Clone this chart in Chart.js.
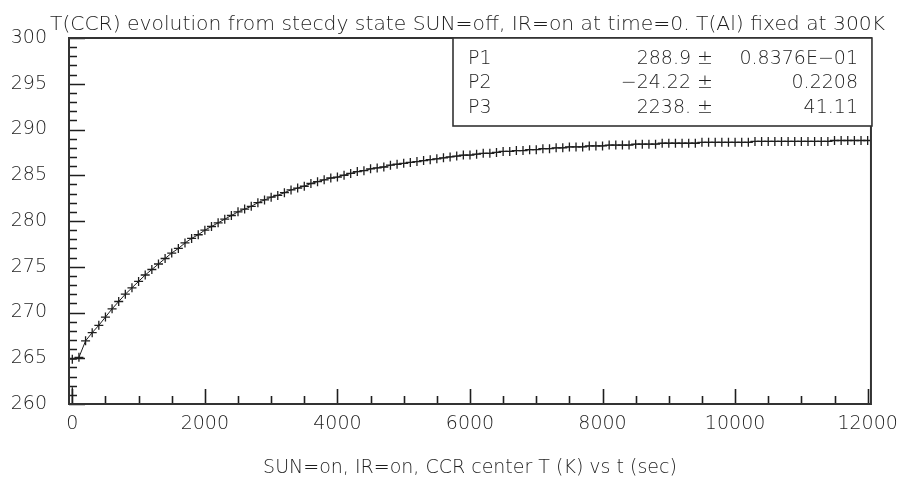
<!DOCTYPE html>
<html>
<head>
<meta charset="utf-8">
<script src="https://cdn.jsdelivr.net/npm/chart.js@4.4.1/dist/chart.umd.min.js"></script>
<style>
  html, body { margin: 0; padding: 0; background: #ffffff; }
  #wrap { width: 907px; height: 488px; }
</style>
</head>
<body>
<div id="wrap"><canvas id="c" width="907" height="488"></canvas></div>
<script>
// Time of each reading (s)
const times = [
  0, 100, 200, 300, 400, 500, 600, 700, 800, 900,
  1000, 1100, 1200, 1300, 1400, 1500, 1600, 1700, 1800, 1900,
  2000, 2100, 2200, 2300, 2400, 2500, 2600, 2700, 2800, 2900,
  3000, 3100, 3200, 3300, 3400, 3500, 3600, 3700, 3800, 3900,
  4000, 4100, 4200, 4300, 4400, 4500, 4600, 4700, 4800, 4900,
  5000, 5100, 5200, 5300, 5400, 5500, 5600, 5700, 5800, 5900,
  6000, 6100, 6200, 6300, 6400, 6500, 6600, 6700, 6800, 6900,
  7000, 7100, 7200, 7300, 7400, 7500, 7600, 7700, 7800, 7900,
  8000, 8100, 8200, 8300, 8400, 8500, 8600, 8700, 8800, 8900,
  9000, 9100, 9200, 9300, 9400, 9500, 9600, 9700, 9800, 9900,
  10000, 10100, 10200, 10300, 10400, 10500, 10600, 10700, 10800, 10900,
  11000, 11100, 11200, 11300, 11400, 11500, 11600, 11700, 11800, 11900,
  12000
];

// CCR center temperature at each reading (K)
const temps = [
  264.9, 265.1, 266.9, 267.8, 268.6, 269.5, 270.4, 271.2, 272.0, 272.7,
  273.4, 274.1, 274.7, 275.3, 275.9, 276.5, 277.0, 277.6, 278.1, 278.5,
  279.0, 279.4, 279.8, 280.2, 280.6, 281.0, 281.3, 281.6, 282.0, 282.3,
  282.6, 282.8, 283.1, 283.4, 283.6, 283.8, 284.1, 284.3, 284.5, 284.7,
  284.8, 285.0, 285.2, 285.4, 285.5, 285.7, 285.8, 285.9, 286.1, 286.2,
  286.3, 286.4, 286.5, 286.6, 286.7, 286.8, 286.9, 287.0, 287.1, 287.2,
  287.2, 287.3, 287.4, 287.4, 287.5, 287.6, 287.6, 287.7, 287.7, 287.8,
  287.8, 287.9, 287.9, 288.0, 288.0, 288.1, 288.1, 288.1, 288.2, 288.2,
  288.2, 288.3, 288.3, 288.3, 288.3, 288.4, 288.4, 288.4, 288.4, 288.5,
  288.5, 288.5, 288.5, 288.5, 288.5, 288.6, 288.6, 288.6, 288.6, 288.6,
  288.6, 288.6, 288.6, 288.7, 288.7, 288.7, 288.7, 288.7, 288.7, 288.7,
  288.7, 288.7, 288.7, 288.7, 288.7, 288.8, 288.8, 288.8, 288.8, 288.8,
  288.8
];

// Stray low reading in the first bin
const strayTimes = [0];
const strayTemps = [260.9];

// Axis ranges and tick layout
const xRange = [-50, 12050];
const yRange = [260, 300];
const xLabelTicks = [0, 2000, 4000, 6000, 8000, 10000, 12000];
const xMinorStep = 500;
const yLabelTicks = [260, 265, 270, 275, 280, 285, 290, 295, 300];
const yMinorStep = 1;

// Fit parameters shown in the box
const fitNames = ['P1', 'P2', 'P3'];
const fitValues = ['288.9', '\u221224.22', '2238.'];
const fitErrors = ['0.8376E\u221201', '0.2208', '41.11'];

const titleText = 'T(CCR) evolution from stecdy state SUN=off, IR=on at time=0. T(Al) fixed at 300K';
const xTitleText = 'SUN=on, IR=on, CCR center T (K) vs t (sec)';

const FONT = "'DejaVu Sans', sans-serif";
const INK = '#1e1e1e';

const points = times.map((t, i) => ({ x: t, y: temps[i] }));
const strayPoints = strayTimes.map((t, i) => ({ x: t, y: strayTemps[i] }));

// Frame with inward tick marks, drawn through the chart scales
const frameTicks = {
  id: 'frameTicks',
  afterDatasetsDraw(chart) {
    const { ctx, chartArea: a, scales } = chart;
    const xs = scales.x, ys = scales.y;
    ctx.save();
    ctx.strokeStyle = INK;
    ctx.lineWidth = 1.6;
    ctx.beginPath();
    for (let v = yRange[0]; v <= yRange[1]; v += yMinorStep) {
      const py = Math.round(ys.getPixelForValue(v)) + 0.5;
      const len = yLabelTicks.includes(v) ? 16 : 8;
      ctx.moveTo(a.left, py);
      ctx.lineTo(a.left + len, py);
    }
    for (let v = 0; v <= xLabelTicks[xLabelTicks.length - 1]; v += xMinorStep) {
      const px = Math.round(xs.getPixelForValue(v)) + 0.5;
      const len = xLabelTicks.includes(v) ? 15 : 8;
      ctx.moveTo(px, a.bottom);
      ctx.lineTo(px, a.bottom - len);
    }
    ctx.stroke();
    ctx.lineWidth = 2;
    ctx.strokeStyle = '#333';
    ctx.strokeRect(a.left, a.top, a.right - a.left, a.bottom - a.top);
    ctx.restore();
  }
};

// Title line and fit-parameter box
const annotations = {
  id: 'annotations',
  afterDraw(chart) {
    const { ctx, chartArea: a } = chart;
    ctx.save();
    ctx.fillStyle = INK;
    ctx.font = '200 20.3px ' + FONT;
    ctx.textAlign = 'left';
    ctx.textBaseline = 'alphabetic';
    ctx.fillText(titleText, 50, 30);

    const left = 453, right = a.right + 1, top = a.top, bottom = 126;
    ctx.fillStyle = '#ffffff';
    ctx.fillRect(left, top, right - left, bottom - top);
    ctx.strokeStyle = '#333';
    ctx.lineWidth = 1.6;
    ctx.strokeRect(left, top, right - left, bottom - top);
    ctx.fillStyle = INK;
    ctx.font = '200 19px ' + FONT;
    ctx.textBaseline = 'middle';
    fitNames.forEach((name, i) => {
      const yy = 59 + i * 24.5;
      ctx.textAlign = 'left';
      ctx.fillText(name, 468, yy);
      ctx.textAlign = 'right';
      ctx.fillText(fitValues[i] + ' \u00b1', 713, yy);
      ctx.fillText(fitErrors[i], 858, yy);
    });
    ctx.restore();
  }
};

new Chart(document.getElementById('c'), {
  type: 'line',
  data: {
    datasets: [
      {
        label: 'T(CCR)',
        data: points,
        showLine: true,
        tension: 0,
        borderColor: INK,
        borderWidth: 1,
        pointStyle: 'cross',
        pointRadius: 4.5,
        pointBorderWidth: 1.3,
        pointBorderColor: INK,
        pointBackgroundColor: INK
      },
      {
        label: 'stray',
        data: strayPoints,
        showLine: false,
        pointStyle: 'line',
        pointRotation: 90,
        pointRadius: 8.5,
        pointBorderWidth: 1.3,
        pointBorderColor: INK
      }
    ]
  },
  options: {
    responsive: false,
    devicePixelRatio: 1,
    animation: false,
    layout: { padding: { left: 0, right: 32, top: 38, bottom: 0 } },
    plugins: {
      legend: { display: false },
      tooltip: { enabled: false },
      title: { display: false }
    },
    scales: {
      x: {
        type: 'linear',
        min: xRange[0],
        max: xRange[1],
        afterBuildTicks(scale) { scale.ticks = xLabelTicks.map(v => ({ value: v })); },
        afterFit(scale) { scale.height = 84; },
        grid: { display: false, drawTicks: false },
        border: { display: false },
        ticks: {
          color: INK,
          font: { family: FONT, size: 19, weight: '200' },
          padding: 9,
          maxRotation: 0,
          autoSkip: false,
          callback: v => String(v)
        },
        title: {
          display: true,
          text: xTitleText,
          color: INK,
          font: { family: FONT, size: 19, weight: '200' },
          padding: { top: 0, bottom: 9 }
        }
      },
      y: {
        type: 'linear',
        min: yRange[0],
        max: yRange[1],
        afterBuildTicks(scale) { scale.ticks = yLabelTicks.map(v => ({ value: v })); },
        afterFit(scale) { scale.width = 69; },
        grid: { display: false, drawTicks: false },
        border: { display: false },
        ticks: {
          color: INK,
          font: { family: FONT, size: 19, weight: '200' },
          padding: 22,
          autoSkip: false,
          callback: v => String(v)
        }
      }
    }
  },
  plugins: [frameTicks, annotations]
});
</script>
</body>
</html>
